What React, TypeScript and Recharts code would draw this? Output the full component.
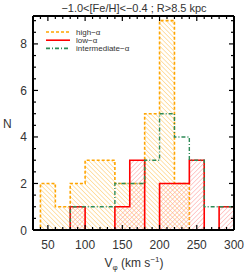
import React from 'react';
import { ComposedChart, Area, XAxis, YAxis, Legend } from 'recharts';

// Histogram bins (left edges, width 20 km/s)
const binStarts = [40, 60, 80, 100, 120, 140, 160, 180, 200, 220, 240, 260, 280];
const highAlpha = [2, 1, 2, 3, 3, 2, 2, 5, 9, 2, 0, 0, 0];
const lowAlpha = [0, 0, 1, 0, 0, 1, 3, 0, 2, 2, 3, 0, 1];
const intermediateAlpha = [0, 0, 1, 1, 1, 2, 2, 3, 5, 4, 3, 1, 1];

const xRange = [30, 300];
const yRange = [0, 9.2];
const xMinorTicks = [30, 40, 50, 60, 70, 80, 90, 100, 110, 120, 130, 140, 150, 160, 170, 180, 190, 200, 210, 220, 230, 240, 250, 260, 270, 280, 290, 300];
const yMinorTicks = [0, 0.5, 1, 1.5, 2, 2.5, 3, 3.5, 4, 4.5, 5, 5.5, 6, 6.5, 7, 7.5, 8, 8.5, 9];

const titleText = '\u22121.0<[Fe/H]<\u22120.4 ; R>8.5 kpc';
const legendItems = [
  { key: 'high', label: 'high\u2212\u03b1', color: '#FFA500', dash: '3 2' },
  { key: 'low', label: 'low\u2212\u03b1', color: '#FF0000', dash: undefined },
  { key: 'inter', label: 'intermediate\u2212\u03b1', color: '#2E8B57', dash: '4 2 1 2' },
];

const data = [
  { v: xRange[0], high: 0, low: 0, inter: 0 },
  ...binStarts.map((v, i) => ({ v, high: highAlpha[i], low: lowAlpha[i], inter: intermediateAlpha[i] })),
  { v: xRange[1], high: 0, low: 0, inter: 0 },
];

const FONT = '"Liberation Sans", Arial, sans-serif';
const TXT = '#333';

const XTick = (props: any) => {
  const { x, y, payload, side } = props;
  const major = payload.value % 50 === 0;
  const len = major ? 5 : 3;
  const dir = side === 'top' ? 1 : -1;
  return (
    <g>
      <line x1={x} x2={x} y1={y} y2={y + dir * len} stroke="#000" strokeWidth={1.2} />
      {side === 'bottom' && major && (
        <text x={x} y={y + 19} textAnchor="middle" fontSize={12} fontFamily={FONT} fill={TXT}>
          {payload.value}
        </text>
      )}
    </g>
  );
};

const YTick = (props: any) => {
  const { x, y, payload, side } = props;
  const major = payload.value % 2 === 0;
  const len = major ? 5 : 3;
  const dir = side === 'left' ? 1 : -1;
  return (
    <g>
      <line x1={x} x2={x + dir * len} y1={y} y2={y} stroke="#000" strokeWidth={1.2} />
      {side === 'left' && major && (
        <text x={x - 6} y={y + 4.5} textAnchor="end" fontSize={12} fontFamily={FONT} fill={TXT}>
          {payload.value}
        </text>
      )}
    </g>
  );
};

const LegendContent = () => (
  <svg width={120} height={30}>
    {legendItems.map((it, i) => (
      <g key={it.key}>
        <line x1={0} x2={24} y1={4 + i * 8.2} y2={4 + i * 8.2} stroke={it.color} strokeWidth={1.6} strokeDasharray={it.dash} />
        <text x={30} y={7 + i * 8.2} fontSize={8} fontFamily={FONT} fill={TXT}>
          {it.label}
        </text>
      </g>
    ))}
  </svg>
);

export default function App() {
  return (
    <div style={{ position: 'absolute', left: 0, top: 0, width: 249, height: 273, background: '#fff' }}>
      <ComposedChart width={249} height={273} data={data} margin={{ top: 15, right: 14, bottom: 42, left: 32 }}>
        <defs>
          <pattern id="hatchOrange" patternUnits="userSpaceOnUse" width={3.2} height={3.2} patternTransform="rotate(-45)">
            <line x1={0} y1={0} x2={0} y2={3.2} stroke="#FFC35A" strokeWidth={1} />
          </pattern>
          <pattern id="hatchRed" patternUnits="userSpaceOnUse" width={3.2} height={3.2} patternTransform="rotate(45)">
            <line x1={0} y1={0} x2={0} y2={3.2} stroke="#FF9A9A" strokeWidth={1} />
          </pattern>
        </defs>
        <XAxis
          xAxisId="b"
          dataKey="v"
          type="number"
          domain={xRange}
          ticks={xMinorTicks}
          interval={0}
          height={1}
          tickSize={0}
          tickMargin={0}
          axisLine={{ stroke: '#000', strokeWidth: 2 }}
          tickLine={false}
          tick={(p: any) => <XTick {...p} side="bottom" />}
          allowDataOverflow
        />
        <XAxis
          xAxisId="t"
          orientation="top"
          dataKey="v"
          type="number"
          domain={xRange}
          ticks={xMinorTicks}
          interval={0}
          height={1}
          tickSize={0}
          tickMargin={0}
          axisLine={{ stroke: '#000', strokeWidth: 2 }}
          tickLine={false}
          tick={(p: any) => <XTick {...p} side="top" />}
          allowDataOverflow
        />
        <YAxis
          yAxisId="l"
          type="number"
          domain={yRange}
          ticks={yMinorTicks}
          interval={0}
          width={1}
          tickSize={0}
          tickMargin={0}
          axisLine={{ stroke: '#000', strokeWidth: 2 }}
          tickLine={false}
          tick={(p: any) => <YTick {...p} side="left" />}
          allowDataOverflow
        />
        <YAxis
          yAxisId="r"
          orientation="right"
          type="number"
          domain={yRange}
          ticks={yMinorTicks}
          interval={0}
          width={1}
          tickSize={0}
          tickMargin={0}
          axisLine={{ stroke: '#000', strokeWidth: 2 }}
          tickLine={false}
          tick={(p: any) => <YTick {...p} side="right" />}
          allowDataOverflow
        />
        <Legend
          verticalAlign="middle"
          align="center"
          layout="vertical"
          wrapperStyle={{ position: 'absolute', left: 46, top: 28, width: 120, height: 30 }}
          content={() => <LegendContent />}
        />
        <Area
          xAxisId="b"
          yAxisId="l"
          type="stepAfter"
          dataKey="high"
          stroke="#FFA500"
          strokeWidth={1.6}
          strokeDasharray="3 2"
          fill="url(#hatchOrange)"
          fillOpacity={1}
          isAnimationActive={false}
          dot={false}
          activeDot={false}
        />
        <Area
          xAxisId="b"
          yAxisId="l"
          type="stepAfter"
          dataKey="low"
          stroke="#FF0000"
          strokeWidth={1.6}
          fill="url(#hatchRed)"
          fillOpacity={1}
          isAnimationActive={false}
          dot={false}
          activeDot={false}
        />
        <Area
          xAxisId="b"
          yAxisId="l"
          type="stepAfter"
          dataKey="inter"
          stroke="#2E8B57"
          strokeWidth={1.4}
          strokeDasharray="4 2 1 2"
          fill="none"
          fillOpacity={0}
          isAnimationActive={false}
          dot={false}
          activeDot={false}
        />
      </ComposedChart>
      <div style={{ position: 'absolute', left: 0, width: 268, top: 2, textAlign: 'center', fontFamily: FONT, fontSize: 11, color: TXT, whiteSpace: 'nowrap' }}>
        {titleText}
      </div>
      <div style={{ position: 'absolute', left: 3, top: 117, fontFamily: FONT, fontSize: 12, color: TXT }}>N</div>
      <div style={{ position: 'absolute', left: 0, width: 268, top: 255, textAlign: 'center', fontFamily: FONT, fontSize: 12, color: TXT, whiteSpace: 'nowrap' }}>
        V<sub style={{ fontSize: 8 }}>{'\u03c6'}</sub> (km s<sup style={{ fontSize: 8 }}>{'\u22121'}</sup>)
      </div>
    </div>
  );
}
